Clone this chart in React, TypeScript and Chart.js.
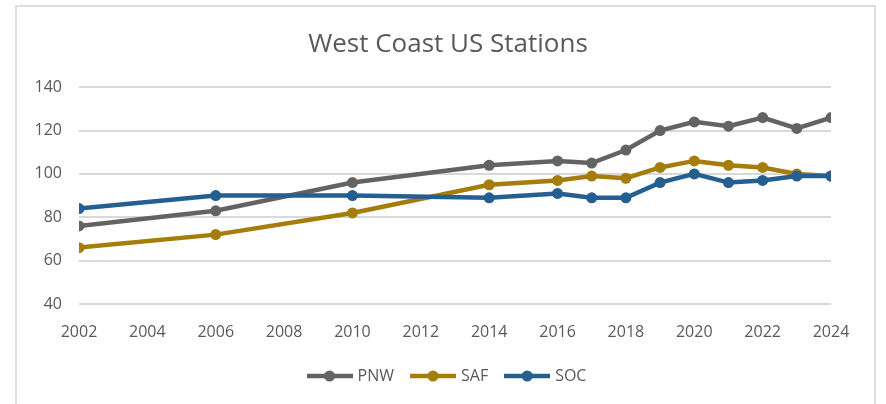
import React, { useEffect, useRef } from "react";
import { Chart, registerables } from "chart.js";

Chart.register(...registerables);

const years = [2002, 2006, 2010, 2014, 2016, 2017, 2018, 2019, 2020, 2021, 2022, 2023, 2024];
const pnw = [76, 83, 96, 104, 106, 105, 111, 120, 124, 122, 126, 121, 126];
const saf = [66, 72, 82, 95, 97, 99, 98, 103, 106, 104, 103, 100, 99];
const soc = [84, 90, 90, 89, 91, 89, 89, 96, 100, 96, 97, 99, 99];
const seriesNames = ["PNW", "SAF", "SOC"];
const seriesColors = ["#636363", "#A47D0A", "#255E91"];
const titleText = "West Coast US Stations";

const FONT = "'Open Sans', 'Noto Sans', sans-serif";

function legendIcon(color: string): HTMLCanvasElement {
  const c = document.createElement("canvas");
  c.width = 46;
  c.height = 12;
  const ctx = c.getContext("2d")!;
  ctx.strokeStyle = color;
  ctx.lineWidth = 4.5;
  ctx.beginPath();
  ctx.moveTo(0, 6);
  ctx.lineTo(46, 6);
  ctx.stroke();
  ctx.fillStyle = color;
  ctx.beginPath();
  ctx.arc(23, 6, 5.5, 0, Math.PI * 2);
  ctx.fill();
  return c;
}

export default function App() {
  const ref = useRef<HTMLCanvasElement | null>(null);

  useEffect(() => {
    if (!ref.current) return;
    const series = [pnw, saf, soc];
    const datasets = series.map((vals, i) => ({
      label: seriesNames[i],
      data: years.map((y, j) => ({ x: y, y: vals[j] })),
      borderColor: seriesColors[i],
      backgroundColor: seriesColors[i],
      pointBackgroundColor: seriesColors[i],
      pointBorderColor: seriesColors[i],
      borderWidth: 4.5,
      pointRadius: 5.5,
      pointBorderWidth: 0,
      tension: 0,
      order: 3 - i,
    }));
    const icons = seriesColors.map((c) => legendIcon(c));
    const chart = new Chart(ref.current, {
      type: "line",
      data: { datasets },
      options: {
        animation: false,
        responsive: false,
        layout: { padding: { left: 10, right: 0, top: 0, bottom: 10 } },
        plugins: {
          title: {
            display: true,
            text: titleText,
            color: "#595959",
            font: { family: FONT, size: 26, weight: "normal" },
            padding: { top: 29, bottom: 27 },
          },
          legend: {
            position: "bottom",
            labels: {
              usePointStyle: true,
              pointStyleWidth: 40,
              padding: 19,
              color: "#595959",
              font: { family: FONT, size: 16 },
              generateLabels: () =>
                seriesNames.map((n, i) => ({
                  text: n,
                  fillStyle: seriesColors[i],
                  strokeStyle: seriesColors[i],
                  lineWidth: 0,
                  pointStyle: icons[i],
                  datasetIndex: i,
                  hidden: false,
                  fontColor: "#595959",
                })),
            },
          },
          tooltip: { enabled: false },
        },
        scales: {
          x: {
            type: "linear",
            min: 2002,
            max: 2024,
            ticks: {
              stepSize: 2,
              padding: 19,
              color: "#595959",
              font: { family: FONT, size: 16 },
              callback: (v: any) => String(v),
              maxRotation: 0,
            },
            grid: { display: false, drawTicks: false },
            border: { display: false },
            afterFit: (s: any) => {
              s.height = 45;
              s.paddingRight = 55;
            },
          },
          y: {
            min: 40,
            max: 140,
            ticks: {
              stepSize: 20,
              padding: 17,
              color: "#595959",
              font: { family: FONT, size: 16 },
            },
            grid: { color: "#d9d9d9", lineWidth: 2, drawTicks: false },
            border: { display: false },
            afterFit: (s: any) => {
              s.width = 69;
            },
          },
        },
      },
    });
    return () => chart.destroy();
  }, []);

  return (
    <div
      style={{
        position: "fixed",
        left: 0,
        top: 0,
        width: 886,
        height: 404,
        overflow: "hidden",
        background: "#ffffff",
      }}
    >
      <div
        style={{
          position: "absolute",
          left: 15,
          top: 5,
          width: 861,
          height: 500,
          boxSizing: "border-box",
          border: "2px solid #dedede",
        }}
      />
      <canvas
        ref={ref}
        width={886}
        height={404}
        style={{ position: "absolute", left: 0, top: 0, width: 886, height: 404 }}
      />
    </div>
  );
}
